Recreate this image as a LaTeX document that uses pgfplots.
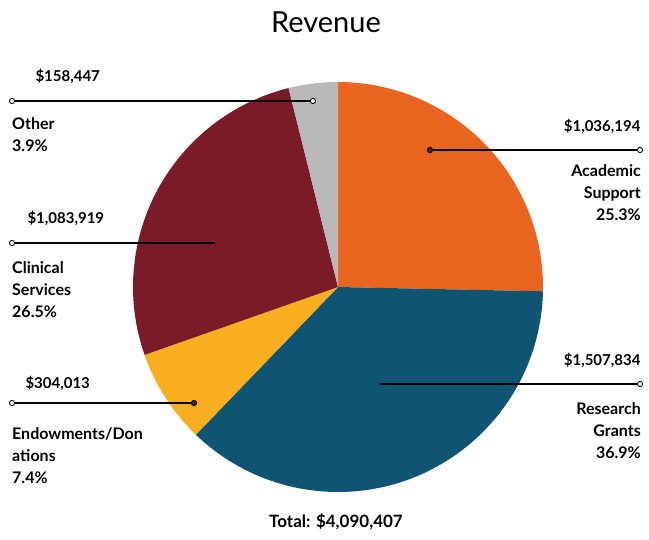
\documentclass[border=0pt]{standalone}
\usepackage{pgfplots}
\pgfplotsset{compat=1.18}
\usepackage{fontspec}
\setmainfont{Lato}

\definecolor{cAcad}{HTML}{E9651F}
\definecolor{cRes}{HTML}{0F5573}
\definecolor{cEnd}{HTML}{F9AE1F}
\definecolor{cClin}{HTML}{7A1B27}
\definecolor{cOther}{HTML}{BAB9B9}

\newcommand\lab{\fontsize{16}{22}\selectfont\bfseries}
\newcommand\val{\fontsize{15}{18}\selectfont\bfseries}

\begin{document}
\begin{tikzpicture}
% revenue in thousands of dollars
\pgfmathsetmacro\vA{1036.194}% Academic Support
\pgfmathsetmacro\vB{1507.834}% Research Grants
\pgfmathsetmacro\vC{304.013}%  Endowments/Donations
\pgfmathsetmacro\vD{1083.919}% Clinical Services
\pgfmathsetmacro\vE{158.447}%  Other
\pgfmathsetmacro\tot{\vA+\vB+\vC+\vD+\vE}
% y axis is reversed, so angles run mirrored: start at top (-90) and go up
\pgfmathsetmacro\aA{-90}
\pgfmathsetmacro\aB{\aA+\vA/\tot*360}
\pgfmathsetmacro\aC{\aB+\vB/\tot*360}
\pgfmathsetmacro\aD{\aC+\vC/\tot*360}
\pgfmathsetmacro\aE{\aD+\vD/\tot*360}
\pgfmathsetmacro\aF{\aE+\vE/\tot*360}
\def\R{205}
\begin{axis}[
  x=1pt, y=1pt,
  xmin=0, xmax=649, ymin=0, ymax=540,
  y dir=reverse,
  hide axis, clip=false,
]
\addplot[draw=none] coordinates {(0,0) (649,540)};
\fill[cAcad]  (axis cs:338,287) -- ++(\aA:\R) arc[start angle=\aA, end angle=\aB, radius=\R] -- cycle;
\fill[cRes]   (axis cs:338,287) -- ++(\aB:\R) arc[start angle=\aB, end angle=\aC, radius=\R] -- cycle;
\fill[cEnd]   (axis cs:338,287) -- ++(\aC:\R) arc[start angle=\aC, end angle=\aD, radius=\R] -- cycle;
\fill[cClin]  (axis cs:338,287) -- ++(\aD:\R) arc[start angle=\aD, end angle=\aE, radius=\R] -- cycle;
\fill[cOther] (axis cs:338,287) -- ++(\aE:\R) arc[start angle=\aE, end angle=\aF, radius=\R] -- cycle;

% leader lines
\draw[line width=1.1pt] (axis cs:12,101) -- (axis cs:313,101);
\draw[line width=1.1pt] (axis cs:12,243) -- (axis cs:215,243);
\draw[line width=1.1pt] (axis cs:12,403) -- (axis cs:194,403);
\draw[line width=1.1pt] (axis cs:430,150) -- (axis cs:640,150);
\draw[line width=1.1pt] (axis cs:380,384) -- (axis cs:640,384);
\draw[line width=0.9pt, fill=white] (axis cs:12,101) circle[radius=2.6pt];
\draw[line width=0.9pt, fill=white] (axis cs:313,101) circle[radius=2.6pt];
\draw[line width=0.9pt, fill=white] (axis cs:12,243) circle[radius=2.6pt];
\draw[line width=0.9pt, fill=white] (axis cs:12,403) circle[radius=2.6pt];
\draw[line width=0.9pt, fill=white] (axis cs:640,150) circle[radius=2.6pt];
\draw[line width=0.9pt, fill=white] (axis cs:640,384) circle[radius=2.6pt];
\draw[line width=0.9pt, fill=black!80] (axis cs:194,403) circle[radius=2.6pt];
\draw[line width=0.9pt, fill=black!80] (axis cs:430,150) circle[radius=2.6pt];

% title and total
\node[font=\fontsize{29}{34}\selectfont] at (axis cs:326,22) {Revenue};
\node[font=\fontsize{17}{20}\selectfont\bfseries] at (axis cs:336,522) {Total: \$4,090,407};

% left labels
\node[anchor=west, font=\val] at (axis cs:32,76) {\$158,447};
\node[anchor=north west, align=left, font=\lab, inner sep=0pt] at (axis cs:12,117) {Other\\3.9\%};
\node[anchor=west, font=\val] at (axis cs:24,218) {\$1,083,919};
\node[anchor=north west, align=left, font=\lab, inner sep=0pt] at (axis cs:12,261) {Clinical\\Services\\26.5\%};
\node[anchor=west, font=\val] at (axis cs:22,383) {\$304,013};
\node[anchor=north west, align=left, font=\lab, inner sep=0pt] at (axis cs:12,427) {Endowments/Don\\ations\\7.4\%};

% right labels
\node[anchor=east, font=\val] at (axis cs:644,126) {\$1,036,194};
\node[anchor=north east, align=right, font=\lab, inner sep=0pt] at (axis cs:641,164) {Academic\\Support\\25.3\%};
\node[anchor=east, font=\val] at (axis cs:644,360) {\$1,507,834};
\node[anchor=north east, align=right, font=\lab, inner sep=0pt] at (axis cs:641,402) {Research\\Grants\\36.9\%};
\end{axis}
\end{tikzpicture}
\end{document}
